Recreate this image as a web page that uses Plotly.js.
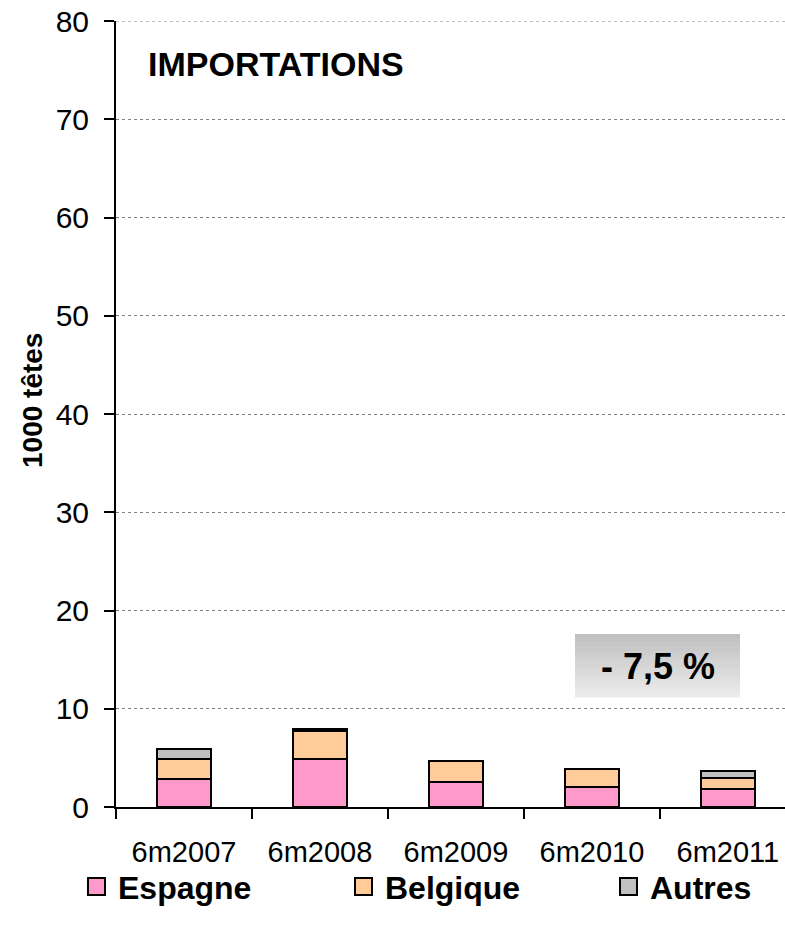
<!DOCTYPE html>
<html>
<head>
<meta charset="utf-8">
<script src="https://cdn.plot.ly/plotly-3.0.1.min.js"></script>
<style>html,body{margin:0;padding:0;background:#fff;}#chart{width:785px;height:932px;}</style>
</head>
<body>
<div id="chart"></div>
<script>
const categories = ["6m2007", "6m2008", "6m2009", "6m2010", "6m2011"];
const espagne = [2.8, 4.9, 2.5, 2.0, 1.8];
const belgique = [2.1, 2.8, 2.2, 1.85, 1.2];
const autres = [1.0, 0.25, 0, 0, 0.65];
const seriesNames = ["Espagne", "Belgique", "Autres"];
const seriesColors = ["#ff99cc", "#ffcc99", "#c0c0c0"];
const yTicks = [0, 10, 20, 30, 40, 50, 60, 70, 80];

const FONT = "Liberation Sans, Arial, sans-serif";
const L = 116, T = 21, PW = 669, PH = 786, W = 785, H = 932;
const px = v => (v - L) / PW;
const py = v => (T + PH - v) / PH;

const data = [espagne, belgique, autres].map((vals, i) => ({
  type: "bar",
  name: seriesNames[i],
  x: categories,
  y: vals,
  marker: {color: seriesColors[i], line: {color: "#000", width: 2}},
  hoverinfo: "skip",
  showlegend: false
}));

const shapes = [];
// top gridline (at max of range)
shapes.push({type: "line", xref: "paper", yref: "y", x0: 0, x1: 1, y0: yTicks[yTicks.length - 1], y1: yTicks[yTicks.length - 1],
  layer: "below", line: {color: "#808080", width: 1, dash: "dot"}});
// gradient box
const bx0 = 575, bx1 = 740, by0 = 634, by1 = 697;
const steps = 24;
for (let k = 0; k < steps; k++) {
  const t = k / (steps - 1);
  const c = Math.round(0xbf + (0xec - 0xbf) * t);
  const ya = by0 + (by1 - by0) * k / steps, yb = by0 + (by1 - by0) * (k + 1) / steps + 0.6;
  shapes.push({type: "rect", xref: "paper", yref: "paper", layer: "above",
    x0: px(bx0), x1: px(bx1), y0: py(yb), y1: py(ya),
    fillcolor: `rgb(${c},${c},${c})`, line: {width: 0}});
}

const annotations = [
  {xref: "paper", yref: "paper", x: px(146), y: py(64), xanchor: "left", yanchor: "middle",
    text: "<b>IMPORTATIONS</b>", showarrow: false, font: {family: FONT, size: 34, color: "#000"}},
  {xref: "paper", yref: "paper", x: px((bx0 + bx1) / 2), y: py(666), xanchor: "center", yanchor: "middle",
    text: "<b>- 7,5 %</b>", showarrow: false, font: {family: FONT, size: 36, color: "#000"}},
  {xref: "paper", yref: "paper", x: px(32), y: py(401), xanchor: "center", yanchor: "middle", textangle: -90,
    text: "<b>1000 têtes</b>", showarrow: false, font: {family: FONT, size: 28, color: "#000"}}
];

// legend (manual)
const legX = [88, 355, 620];
const legY = 888;
seriesNames.forEach((n, i) => {
  shapes.push({type: "rect", xref: "paper", yref: "paper",
    x0: px(legX[i]), x1: px(legX[i] + 17), y0: py(legY + 7), y1: py(legY - 10),
    fillcolor: seriesColors[i], line: {color: "#000", width: 2}});
  annotations.push({xref: "paper", yref: "paper", x: px(legX[i] + 28), y: py(legY), xanchor: "left", yanchor: "middle",
    text: "<b>" + n + "</b>", showarrow: false, font: {family: FONT, size: 32, color: "#000"}});
});

const layout = {
  width: W, height: H,
  margin: {l: L, r: 0, t: T, b: H - T - PH},
  barmode: "stack",
  bargap: 0.6,
  paper_bgcolor: "#fff", plot_bgcolor: "#fff",
  font: {family: FONT, size: 30, color: "#000"},
  showlegend: false,
  xaxis: {type: "category", range: [-0.5, 4.42], showline: true, linecolor: "#000", linewidth: 2,
    ticks: "outside", tickson: "boundaries", ticklen: 10, tickwidth: 2, tickcolor: "#000",
    ticklabelstandoff: 18, automargin: false,
    showgrid: false, tickfont: {family: FONT, size: 29}, fixedrange: true},
  yaxis: {range: [0, 80], tickvals: yTicks, showline: true, linecolor: "#000", linewidth: 2,
    ticks: "outside", ticklen: 10, tickwidth: 2, tickcolor: "#000", ticklabelstandoff: 9, automargin: false,
    showgrid: true, gridcolor: "#808080", griddash: "dot", gridwidth: 1, zeroline: false,
    tickfont: {family: FONT, size: 30}, fixedrange: true},
  shapes: shapes,
  annotations: annotations
};

Plotly.newPlot("chart", data, layout, {displayModeBar: false, staticPlot: true});
</script>
</body>
</html>
